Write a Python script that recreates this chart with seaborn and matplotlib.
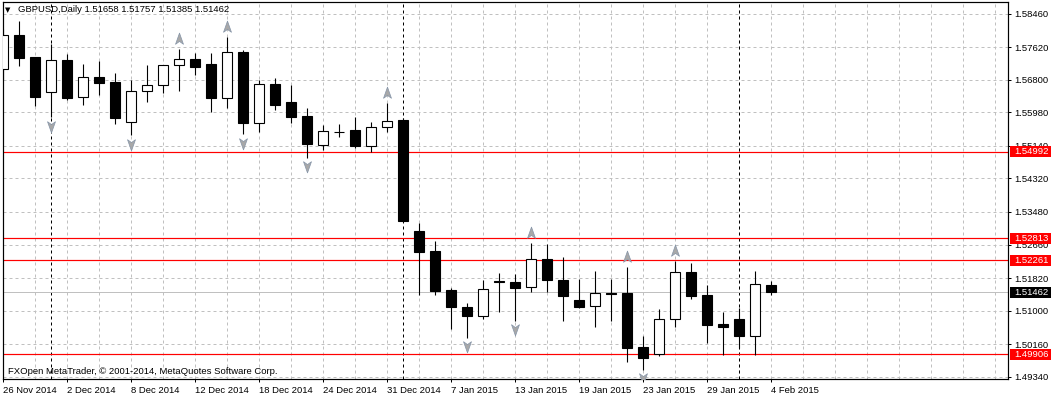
import numpy as np
import pandas as pd
import matplotlib
matplotlib.use("Agg")
import matplotlib.pyplot as plt
import matplotlib.transforms as mtransforms
from matplotlib.path import Path
from matplotlib.patches import Rectangle
import seaborn as sns

# ---------------- data ----------------
dates = [d for d in pd.bdate_range("2014-11-26", "2015-02-04")
         if d.strftime("%Y-%m-%d") not in ("2014-12-25", "2015-01-01")]

opens = [1.57068, 1.57922, 1.57369, 1.56483, 1.57287, 1.56358, 1.56860, 1.56742, 1.55730, 1.56508,
         1.56659, 1.57161, 1.57319, 1.57194, 1.56348, 1.57502, 1.55720, 1.56692, 1.56240, 1.55888,
         1.55168, 1.55481, 1.55537, 1.55143, 1.55605, 1.55788, 1.53001, 1.52499, 1.51520, 1.51093,
         1.50875, 1.51754, 1.51721, 1.51588, 1.52291, 1.51771, 1.51269, 1.51111, 1.51445, 1.51437,
         1.50082, 1.49914, 1.50785, 1.51980, 1.51395, 1.50667, 1.50792, 1.50373, 1.51658]
highs = [1.58065, 1.58273, 1.57380, 1.57688, 1.57445, 1.57194, 1.57261, 1.56968, 1.56792, 1.57169,
         1.57175, 1.57570, 1.57477, 1.57477, 1.57879, 1.57545, 1.56792, 1.56835, 1.56666, 1.56097,
         1.55662, 1.55687, 1.55871, 1.55730, 1.56207, 1.55838, 1.53195, 1.52750, 1.51563, 1.51186,
         1.51771, 1.51954, 1.51922, 1.52692, 1.52675, 1.52341, 1.51796, 1.51997, 1.51789, 1.52105,
         1.50365, 1.51043, 1.52256, 1.52206, 1.51646, 1.50960, 1.51061, 1.51997, 1.51757]
lows = [1.56792, 1.57151, 1.56139, 1.55863, 1.56290, 1.56164, 1.56423, 1.55695, 1.55411, 1.56247,
        1.56458, 1.56523, 1.56910, 1.55996, 1.56097, 1.55429, 1.55494, 1.56039, 1.55720, 1.54841,
        1.55035, 1.55369, 1.55077, 1.54992, 1.55494, 1.53227, 1.51395, 1.51395, 1.50549, 1.50323,
        1.50780, 1.50975, 1.50745, 1.51462, 1.51477, 1.50749, 1.51068, 1.50584, 1.50749, 1.49720,
        1.49512, 1.49871, 1.50599, 1.51302, 1.50182, 1.49888, 1.50057, 1.49888, 1.51385]
closes = [1.57922, 1.57352, 1.56373, 1.57287, 1.56333, 1.56860, 1.56724, 1.55846, 1.56516, 1.56659,
          1.57161, 1.57312, 1.57126, 1.56348, 1.57487, 1.55720, 1.56684, 1.56164, 1.55871, 1.55185,
          1.55504, 1.55478, 1.55143, 1.55605, 1.55755, 1.53260, 1.52482, 1.51503, 1.51086, 1.50875,
          1.51538, 1.51713, 1.51578, 1.52291, 1.51764, 1.51377, 1.51086, 1.51437, 1.51430, 1.50072,
          1.49806, 1.50785, 1.51965, 1.51377, 1.50649, 1.50599, 1.50373, 1.51663, 1.51462]

up_fractals = [11, 14, 24, 33, 39, 42]
down_fractals = [3, 8, 15, 19, 29, 32, 40]

levels = [1.54992, 1.52813, 1.52261, 1.49906]
y_ticks = [1.58460, 1.57620, 1.56800, 1.55980, 1.55140, 1.54320, 1.53480,
           1.52660, 1.51820, 1.51000, 1.50160, 1.49340]
separators = ["2014-12-01", "2015-01-02", "2015-02-02"]

symbol = "GBPUSD,Daily"
footer = "FXOpen MetaTrader, \u00a9 2001-2014, MetaQuotes Software Corp."

# ---------------- style ----------------
sns.set_theme(style="white")
plt.rcParams["font.family"] = ["Liberation Sans", "DejaVu Sans"]
FS = 6.8
PX = 0.72  # one pixel in points at dpi 100

W, H = 1051, 397
fig = plt.figure(figsize=(W / 100, H / 100), dpi=100)
fig.patch.set_facecolor("white")
ax_l, ax_r, ax_t, ax_b = 2.7, 1008.0, 2.3, 379.3
ax = fig.add_axes([ax_l / W, (H - ax_b) / H, (ax_r - ax_l) / W, (ax_b - ax_t) / H])
ax.set_facecolor("white")

n = len(opens)
x = np.arange(n)
o = np.array(opens); c = np.array(closes); hi = np.array(highs); lo = np.array(lows)

# grid
ax.set_xticks(np.arange(0, n, 4))
ax.set_xticks(np.arange(0, 64, 2), minor=True)
ax.set_xticklabels([d.strftime("%-d %b %Y") for d in dates[::4]])
ax.set_yticks(y_ticks)
ax.set_yticklabels([f"{v:.5f}" for v in y_ticks])
ax.grid(True, which="both", axis="x", color="#c0c0c0", lw=PX, linestyle=(0, (3, 3)))
ax.grid(True, which="major", axis="y", color="#c0c0c0", lw=PX, linestyle=(0, (3, 3)))
ax.set_axisbelow(True)

# period separators
date_idx = {d.strftime("%Y-%m-%d"): i for i, d in enumerate(dates)}
for s in separators:
    ax.axvline(date_idx[s], color="black", lw=PX, linestyle=(0, (3, 3)), zorder=1.2)

# horizontal levels
ax.axhline(closes[-1], color="#c0c0c0", lw=PX, zorder=1.3)
for lv in levels:
    ax.axhline(lv, color="#ff0000", lw=PX * 1.2, zorder=1.4)

# candles
ax.vlines(x, lo, hi, color="black", lw=PX * 1.1, zorder=3)
bull = c >= o
ax.bar(x, np.abs(c - o), bottom=np.minimum(o, c), width=0.62,
       color=np.where(bull, "white", "black"), edgecolor="black", linewidth=PX * 1.1, zorder=4)

# fractal arrows
up_path = Path([(0, 1), (0.62, -0.75), (0, -0.3), (-0.62, -0.75), (0, 1)],
               [Path.MOVETO, Path.LINETO, Path.LINETO, Path.LINETO, Path.CLOSEPOLY])
down_path = Path([(0, -1), (0.62, 0.75), (0, 0.3), (-0.62, 0.75), (0, -1)],
                 [Path.MOVETO, Path.LINETO, Path.LINETO, Path.LINETO, Path.CLOSEPOLY])
up_df = pd.DataFrame({"i": up_fractals, "p": hi[up_fractals]})
dn_df = pd.DataFrame({"i": down_fractals, "p": lo[down_fractals]})
sns.scatterplot(data=up_df, x="i", y="p", ax=ax, marker=up_path, s=85,
                color="#a8a8a8", edgecolor="#8494a8", linewidth=0.5, zorder=5,
                transform=mtransforms.offset_copy(ax.transData, fig=fig, x=0, y=10, units="dots"),
                legend=False)
sns.scatterplot(data=dn_df, x="i", y="p", ax=ax, marker=down_path, s=85,
                color="#a8a8a8", edgecolor="#8494a8", linewidth=0.5, zorder=5,
                transform=mtransforms.offset_copy(ax.transData, fig=fig, x=0, y=-8.5, units="dots"),
                legend=False)

# limits
slope = 0.00025104
ax.set_xlim(0, (ax_r - ax_l) / 16.0)
ax.set_ylim(1.54992 - (ax_b - 151.7) * slope, 1.54992 + (151.7 - ax_t) * slope)
ax.set_xlabel(""); ax.set_ylabel("")

# axes / ticks
for sp in ax.spines.values():
    sp.set_color("black"); sp.set_linewidth(PX * 1.2); sp.set_visible(True)
ax.yaxis.tick_right()
ax.tick_params(axis="y", which="major", direction="out", length=2.5, width=PX,
               colors="black", labelsize=FS, pad=2.2, right=True, left=False)
ax.tick_params(axis="x", which="major", direction="out", length=2.5, width=PX,
               colors="black", labelsize=FS, pad=2.0, bottom=True)
ax.tick_params(axis="x", which="minor", length=0)
for lab in ax.get_xticklabels():
    lab.set_ha("left")

# right-side price boxes
blend = mtransforms.blended_transform_factory(fig.transFigure, ax.transData)
box_h = 11 * slope
for val, col in [(lv, "#ff0000") for lv in levels] + [(closes[-1], "black")]:
    ax.add_patch(Rectangle((1009.5 / W, val - box_h / 2), (W - 1009.5) / W, box_h,
                           transform=blend, facecolor=col, edgecolor="none",
                           clip_on=False, zorder=10))
    ax.text(1014.0 / W, val, f"{val:.5f}", transform=blend, color="white",
            fontsize=FS, va="center", ha="left", clip_on=False, zorder=11)

# header and footer text
fig.text(5 / W, 1 - 10.5 / H, "\u25bc", fontsize=5, family="DejaVu Sans",
         va="center", ha="left", color="black")
fig.text(18 / W, 1 - 10 / H,
         f"{symbol} {opens[-1]:.5f} {highs[-1]:.5f} {lows[-1]:.5f} {closes[-1]:.5f}",
         fontsize=FS, va="center", ha="left", color="black")
fig.text(7.5 / W, 1 - 372 / H, footer, fontsize=FS, va="center", ha="left", color="black")

fig.savefig("out.png", dpi=100, facecolor="white")
